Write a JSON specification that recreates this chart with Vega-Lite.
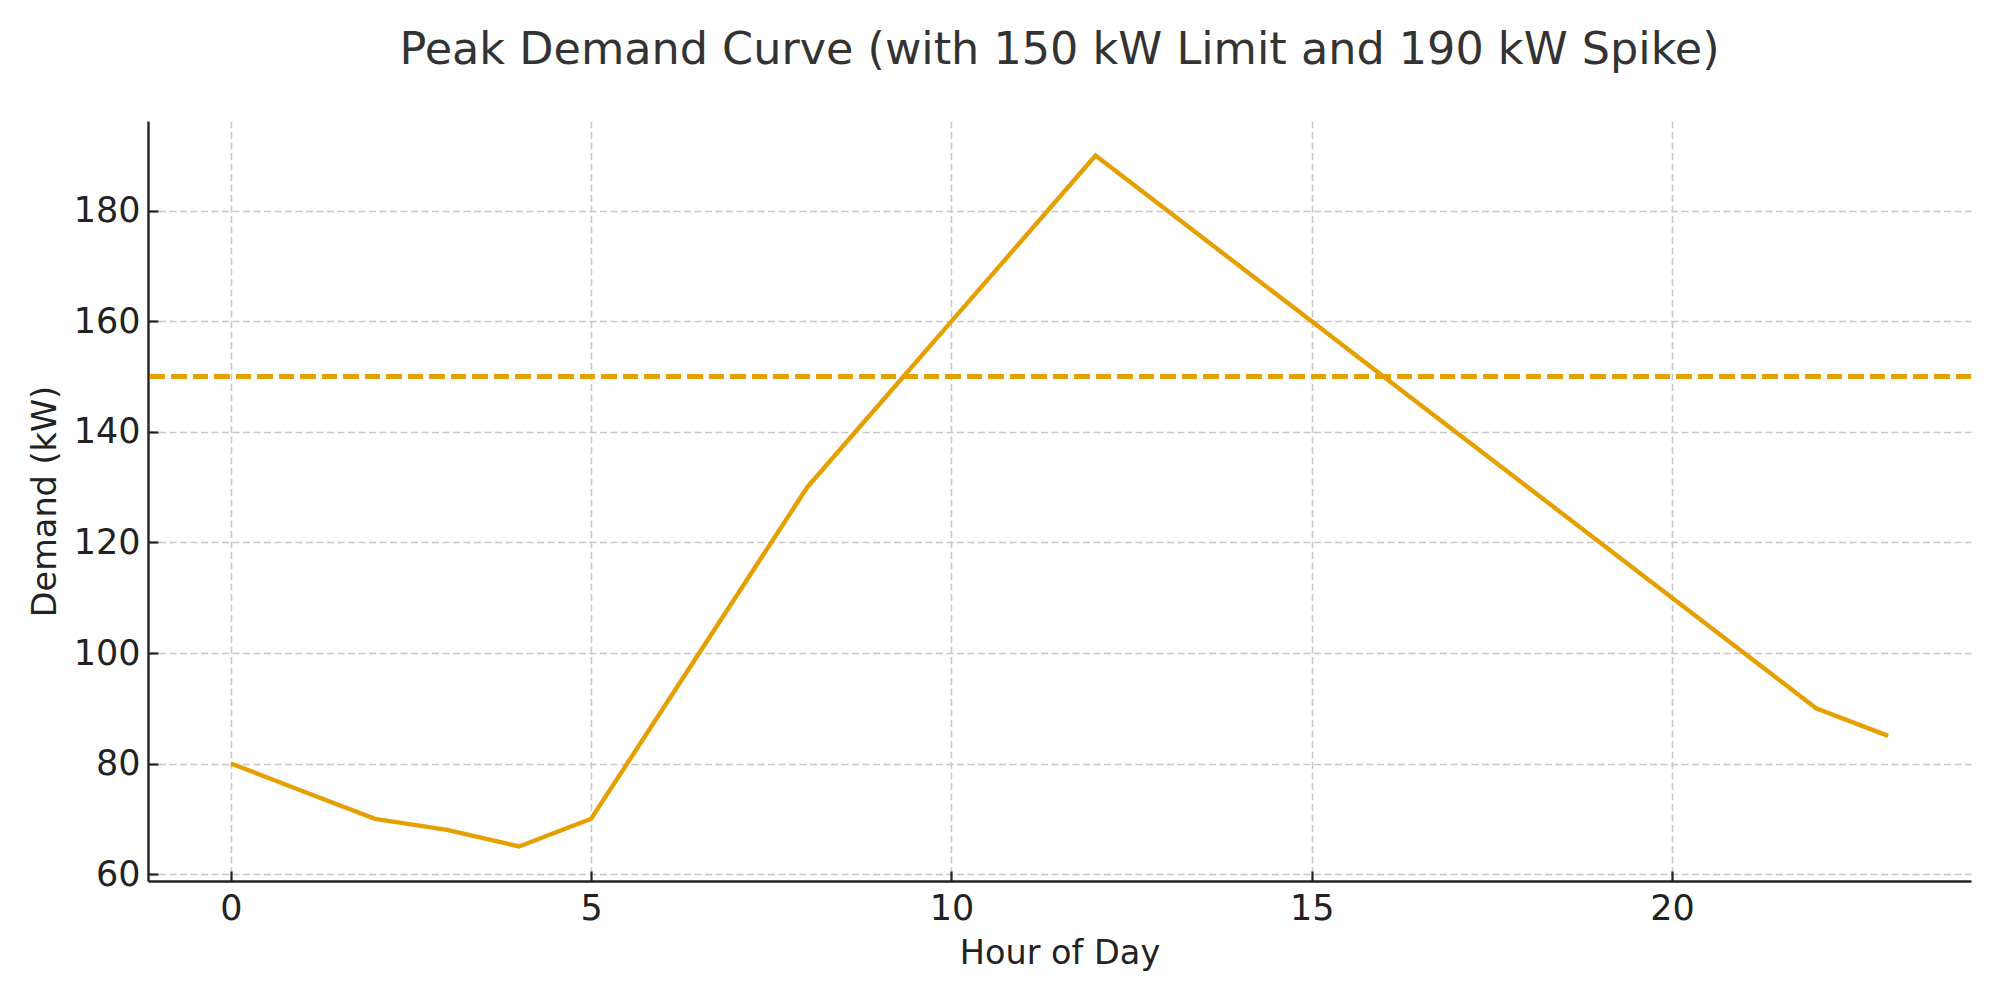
{
  "$schema": "https://vega.github.io/schema/vega-lite/v6.json",
  "autosize": "none",
  "width": 1823,
  "height": 760,
  "padding": {"left": 148, "top": 121, "right": 29, "bottom": 119},
  "background": "white",
  "title": {
    "text": "Peak Demand Curve (with 150 kW Limit and 190 kW Spike)",
    "font": "DejaVu Sans",
    "fontSize": 44.5,
    "fontWeight": "normal",
    "color": "#333333",
    "anchor": "middle",
    "baseline": "alphabetic",
    "offset": 13
  },
  "config": {
    "view": {"stroke": null},
    "axis": {
      "labelFont": "DejaVu Sans",
      "labelFontSize": 35,
      "labelColor": "#222222",
      "titleFont": "DejaVu Sans",
      "titleFontSize": 33.5,
      "titleFontWeight": "normal",
      "titleColor": "#222222",
      "domainColor": "#222222",
      "domainWidth": 2.4,
      "tickColor": "#222222",
      "tickWidth": 2.2,
      "tickSize": -10,
      "gridColor": "#c8c8c8",
      "gridWidth": 1.6,
      "gridDash": [7, 3.5]
    }
  },
  "data": {
    "values": [
      {"hour": 0, "demand": 80},
      {"hour": 1, "demand": 75},
      {"hour": 2, "demand": 70},
      {"hour": 3, "demand": 68},
      {"hour": 4, "demand": 65},
      {"hour": 5, "demand": 70},
      {"hour": 6, "demand": 90},
      {"hour": 7, "demand": 110},
      {"hour": 8, "demand": 130},
      {"hour": 9, "demand": 145},
      {"hour": 10, "demand": 160},
      {"hour": 11, "demand": 175},
      {"hour": 12, "demand": 190},
      {"hour": 13, "demand": 180},
      {"hour": 14, "demand": 170},
      {"hour": 15, "demand": 160},
      {"hour": 16, "demand": 150},
      {"hour": 17, "demand": 140},
      {"hour": 18, "demand": 130},
      {"hour": 19, "demand": 120},
      {"hour": 20, "demand": 110},
      {"hour": 21, "demand": 100},
      {"hour": 22, "demand": 90},
      {"hour": 23, "demand": 85}
    ]
  },
  "layer": [
    {
      "mark": {"type": "line", "color": "#E69F00", "strokeWidth": 4.4},
      "encoding": {
        "x": {
          "field": "hour",
          "type": "quantitative",
          "title": "Hour of Day",
          "scale": {"domain": [-1.15, 24.15], "nice": false, "zero": false},
          "axis": {"values": [0, 5, 10, 15, 20], "labelPadding": 20, "titlePadding": 11}
        },
        "y": {
          "field": "demand",
          "type": "quantitative",
          "title": "Demand (kW)",
          "scale": {"domain": [58.75, 196.25], "nice": false, "zero": false},
          "axis": {"values": [60, 80, 100, 120, 140, 160, 180], "labelPadding": 18, "titlePadding": 11}
        }
      }
    },
    {
      "mark": {"type": "rule", "color": "#E69F00", "strokeWidth": 4.4, "strokeDash": [15, 6.5]},
      "encoding": {
        "y": {"datum": 150, "type": "quantitative"}
      }
    }
  ]
}
